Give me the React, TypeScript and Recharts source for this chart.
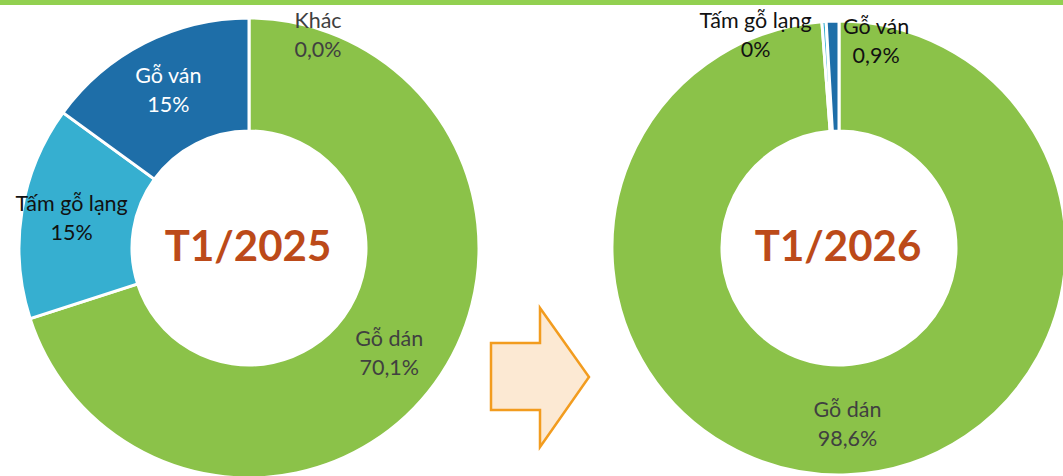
import { PieChart, Pie, Cell } from "recharts";

const categories = ["Gỗ dán", "Tấm gỗ lạng", "Gỗ ván", "Khác"];
const values2025 = [70.1, 15, 15, 0];
const labels2025 = ["70,1%", "15%", "15%", "0,0%"];
const values2026 = [98.6, 0.3, 0.9];
const labels2026 = ["98,6%", "0%", "0,9%"];
const titles = ["T1/2025", "T1/2026"];
const COLORS = ["#8BC249", "#36AFD0", "#1E6EA8", "#8BC249"];

// label colours and small nudges (Excel-style placement)
const txt2025 = ["#404040", "#111111", "#FFFFFF", "#404040"];
const nudge2025 = [[0, 2], [-6, -4], [-2, -4], [69, -41]];
const txt2026 = ["#404040", "#111111", "#111111"];
const nudge2026 = [[2, 3], [-72, -42], [42, -36]];

const RAD = Math.PI / 180;
const FONT = "Lato, 'Open Sans', sans-serif";

function makeLabel(title: string, texts: string[], colors: string[], nudges: number[][]) {
  return (p: any) => {
    const r = (p.innerRadius + p.outerRadius) / 2;
    const x = p.cx + r * Math.cos(-p.midAngle * RAD) + nudges[p.index][0];
    const y = p.cy + r * Math.sin(-p.midAngle * RAD) + nudges[p.index][1];
    return (
      <g key={`l-${p.index}`}>
        {p.index === 0 && (
          <text
            x={p.cx - 1}
            y={p.cy}
            dy={13}
            textAnchor="middle"
            fill="#BC4A19"
            fontSize={42}
            fontWeight={700}
            fontFamily={FONT}
          >
            {title}
          </text>
        )}
        <text x={x} y={y} textAnchor="middle" fill={colors[p.index]} fontSize={21.5} fontFamily={FONT}>
          <tspan x={x} dy={-6}>{p.name}</tspan>
          <tspan x={x} dy={29}>{texts[p.index]}</tspan>
        </text>
      </g>
    );
  };
}

export default function App() {
  const d2025 = categories.map((c, i) => ({ name: c, value: values2025[i] }));
  const d2026 = categories.slice(0, 3).map((c, i) => ({ name: c, value: values2026[i] }));
  return (
    <div style={{ position: "absolute", left: 0, top: 0, width: 1063, height: 476, background: "#fff", overflow: "hidden" }}>
      <div style={{ position: "absolute", left: 0, top: 0, width: 1063, height: 5, background: "#92D050" }} />
      <PieChart width={1063} height={476} margin={{ top: 0, right: 0, bottom: 0, left: 0 }}>
        <Pie
          data={d2025}
          dataKey="value"
          nameKey="name"
          cx={249}
          cy={248}
          innerRadius={117}
          outerRadius={230}
          startAngle={90}
          endAngle={-270}
          stroke="#fff"
          strokeWidth={3}
          labelLine={false}
          label={makeLabel(titles[0], labels2025, txt2025, nudge2025)}
          isAnimationActive={false}
        >
          {d2025.map((_, i) => (
            <Cell key={i} fill={COLORS[i]} />
          ))}
        </Pie>
        <Pie
          data={d2026}
          dataKey="value"
          nameKey="name"
          cx={839}
          cy={248}
          innerRadius={117}
          outerRadius={227}
          startAngle={90}
          endAngle={-270}
          stroke="#fff"
          strokeWidth={3}
          labelLine={false}
          label={makeLabel(titles[1], labels2026, txt2026, nudge2026)}
          isAnimationActive={false}
        >
          {d2026.map((_, i) => (
            <Cell key={i} fill={COLORS[i]} />
          ))}
        </Pie>
      </PieChart>
      <svg width={1063} height={476} style={{ position: "absolute", left: 0, top: 0, pointerEvents: "none" }}>
        <polygon
          points="491,343 540,343 540,308 589,377 540,447 540,410 491,410"
          fill="#FCE9D3"
          stroke="#F29C1F"
          strokeWidth={2.5}
        />
      </svg>
    </div>
  );
}
